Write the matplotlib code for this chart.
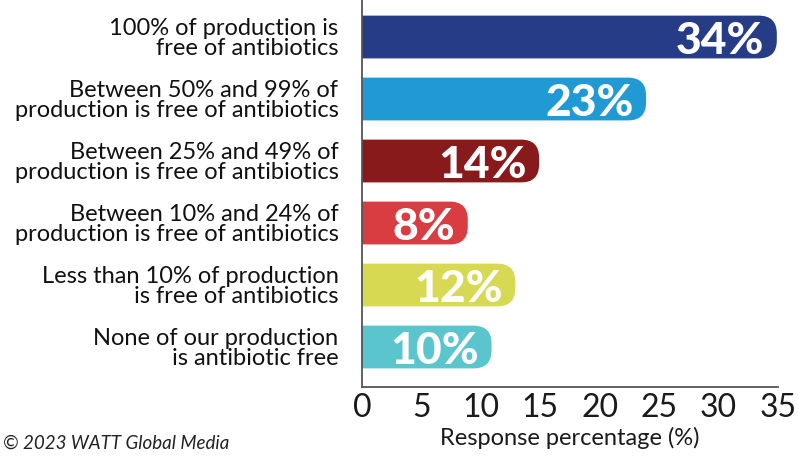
import matplotlib
matplotlib.use("Agg")
import matplotlib.pyplot as plt
from matplotlib.patches import FancyBboxPatch

plt.rcParams["font.family"] = ["Lato", "DejaVu Sans"]

# data
categories = [
    "100% of production is\nfree of antibiotics",
    "Between 50% and 99% of\nproduction is free of antibiotics",
    "Between 25% and 49% of\nproduction is free of antibiotics",
    "Between 10% and 24% of\nproduction is free of antibiotics",
    "Less than 10% of production\nis free of antibiotics",
    "None of our production\nis antibiotic free",
]
values = [34, 23, 14, 8, 12, 10]
colors = ["#263c87", "#2199d4", "#891a1c", "#d93d41", "#d7d952", "#5bc5ce"]
xticks = [0, 5, 10, 15, 20, 25, 30, 35]

W, H, DPI = 7.98, 4.57, 100
fig = plt.figure(figsize=(W, H), dpi=DPI)
ax = fig.add_axes([362 / 798, 1 - 387 / 457, 416 / 798, 387 / 457])

ax.set_xlim(0, 35)
ax.set_ylim(5.645, -0.597)

# px per data unit, used to keep the rounded ends circular
px_x = 416 / 35
px_y = 387 / (5.645 + 0.597)
aspect = px_x / px_y
r_px = 18
cap = 0.9      # rounded end sticks out past the value
bar_h = 0.69

for i, (v, c) in enumerate(zip(values, colors)):
    x0 = -5
    box = FancyBboxPatch((x0, i - bar_h / 2), v + cap - x0, bar_h,
                         boxstyle=f"round,pad=0,rounding_size={r_px / px_x}",
                         mutation_aspect=aspect, fc=c, ec="none", zorder=2)
    ax.add_patch(box)
    ax.annotate(f"{v}%", (v + cap, i), xytext=(-9, 0), textcoords="offset points",
                ha="right", va="center_baseline", color="white",
                fontsize=32, fontweight="black", zorder=3)

ax.set_yticks(range(len(categories)))
ax.set_yticklabels(categories, fontsize=17, color="#111111", linespacing=0.95)
ax.set_xticks(xticks)
ax.set_xticklabels([str(t) for t in xticks], fontsize=23, color="#1a1a1a")
ax.tick_params(axis="y", length=0, pad=17)
ax.tick_params(axis="x", length=0, pad=4)
ax.set_xlabel("Response percentage (%)", fontsize=17, color="#1a1a1a", labelpad=3)

for s in ["top", "right"]:
    ax.spines[s].set_visible(False)
for s in ["left", "bottom"]:
    ax.spines[s].set_color("#555555")
    ax.spines[s].set_linewidth(1.3)

fig.text(3 / 798, 1 - 443 / 457, "© 2023 WATT Global Media", fontsize=13.5,
         style="italic", color="#222222", va="center")

fig.savefig("out.png", dpi=DPI)
